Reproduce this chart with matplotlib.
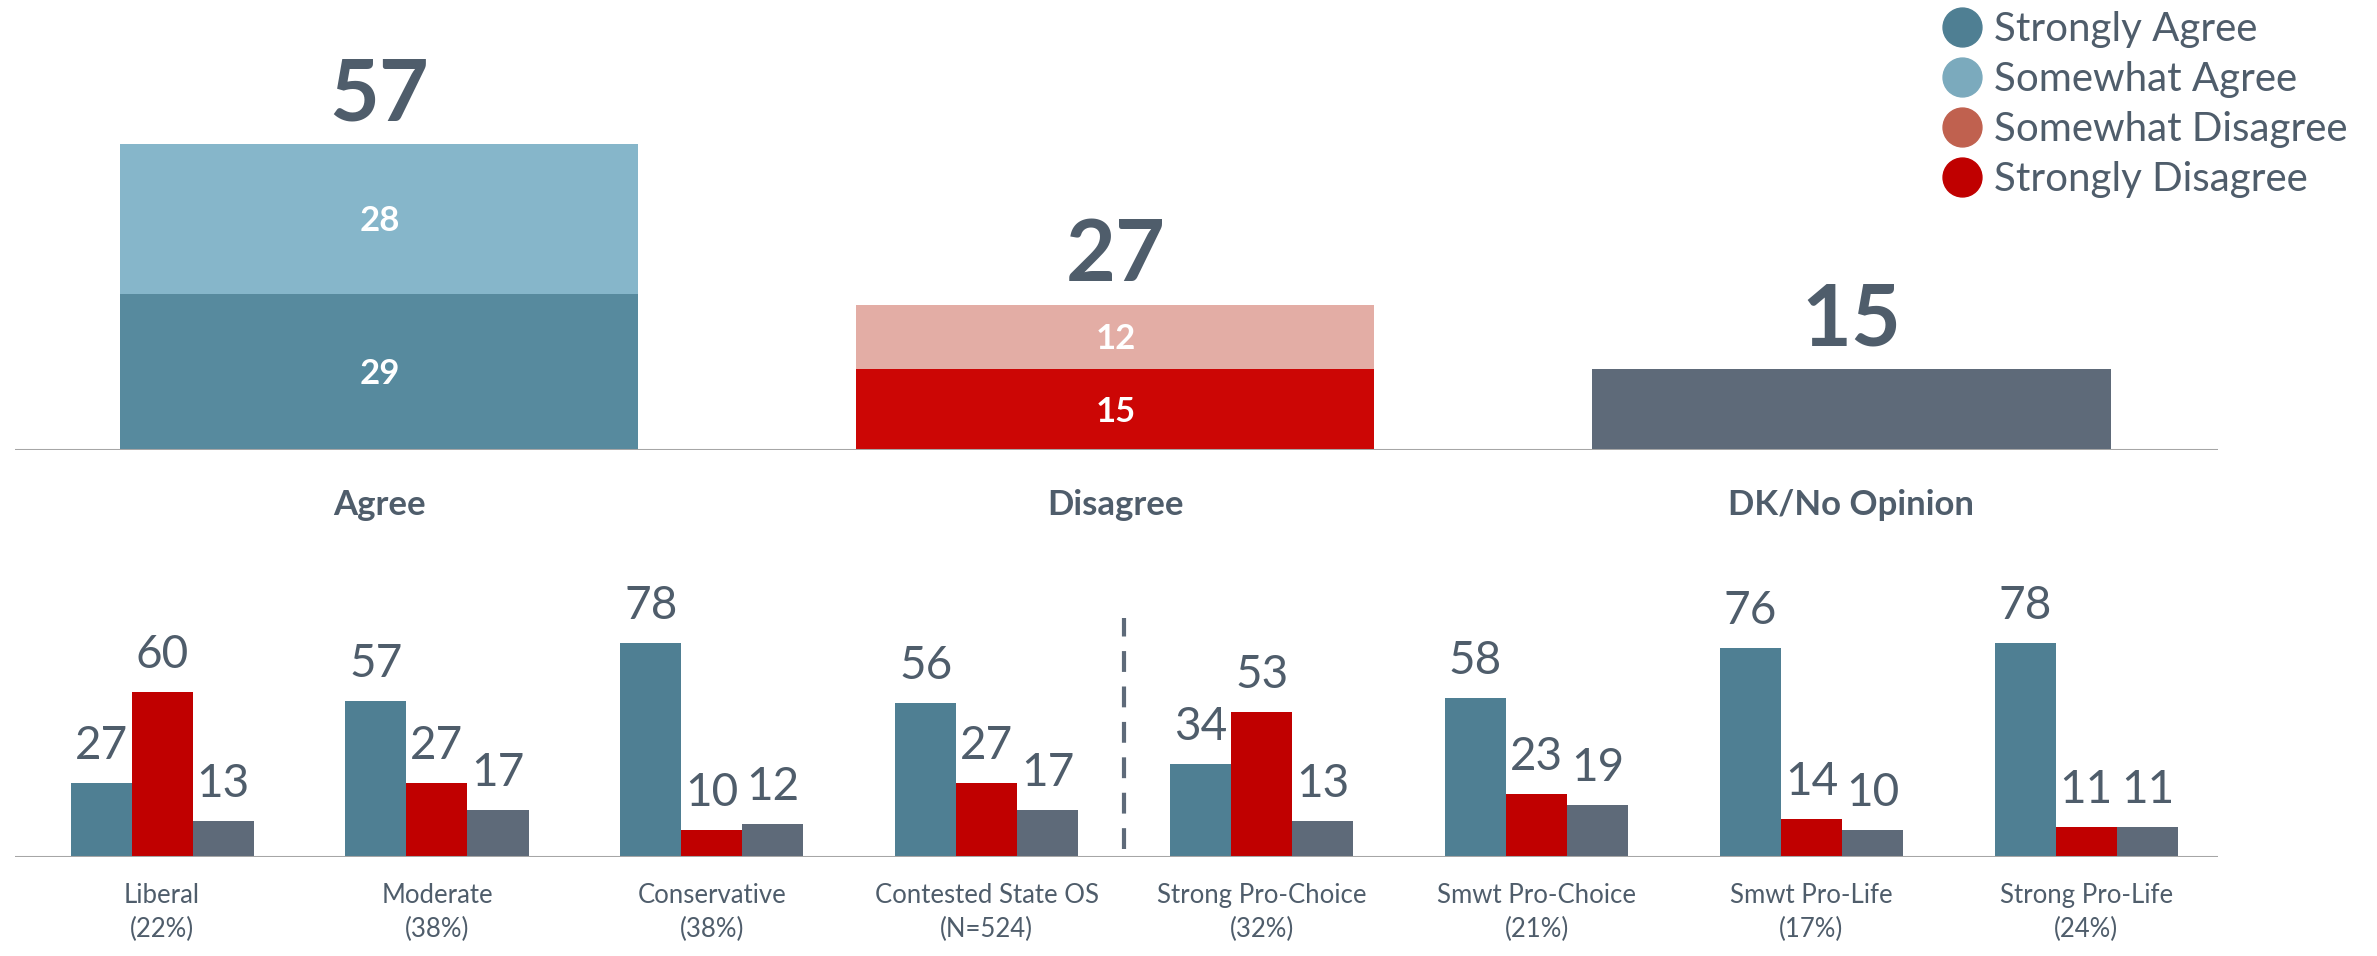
import matplotlib
matplotlib.use("Agg")
import matplotlib.pyplot as plt
from matplotlib.lines import Line2D

# ---------------- data ----------------
top_categories = ["Agree", "Disagree", "DK/No Opinion"]
top_strong = [29, 15, 15]      # Strongly Agree / Strongly Disagree / DK
top_somewhat = [28, 12, 0]     # Somewhat Agree / Somewhat Disagree
top_totals = [57, 27, 15]

groups = ["Liberal\n(22%)", "Moderate\n(38%)", "Conservative\n(38%)",
          "Contested State OS\n(N=524)", "Strong Pro-Choice\n(32%)",
          "Smwt Pro-Choice\n(21%)", "Smwt Pro-Life\n(17%)", "Strong Pro-Life\n(24%)"]
grp_agree = [27, 57, 78, 56, 34, 58, 76, 78]
grp_disagree = [60, 27, 10, 27, 53, 23, 14, 11]
grp_dk = [13, 17, 12, 17, 13, 19, 10, 11]

legend_labels = ["Strongly Agree", "Somewhat Agree", "Somewhat Disagree", "Strongly Disagree"]

# ---------------- style ----------------
FONT = "Lato"
TXT = "#4F5D6B"
C_SA = "#578A9E"
C_SA2 = "#4F7F93"
C_WA = "#86B6CA"
C_WD = "#E3ADA5"
C_WD_LEG = "#C0614F"
C_SD = "#CC0605"
C_SD2 = "#C00000"
C_DK = "#5E6A79"
AX = "#A6A6A6"

W, H = 2377, 956
fig = plt.figure(figsize=(W / 100, H / 100), dpi=100)
fig.patch.set_facecolor("white")

def fx(px):
    return px / W

def fy(py):
    return 1 - py / H

# ---------------- top chart ----------------
ax_l, ax_r = 15, 2218
base_top = 450
ax1 = fig.add_axes([fx(ax_l), fy(base_top), fx(ax_r - ax_l), base_top / H])
xs = list(range(len(top_categories)))
bw = 0.704
ax1.bar(xs, top_strong, width=bw, color=[C_SA, C_SD, C_DK], zorder=2)
ax1.bar(xs, top_somewhat, width=bw, bottom=top_strong, color=[C_WA, C_WD, C_WD], zorder=2)
ax1.set_xlim(-0.495, 2.498)
ax1.set_ylim(0, 83.8)
for i in xs:
    if top_somewhat[i] > 0:
        ax1.text(i, top_strong[i] / 2 - 0.4, str(top_strong[i]), ha="center", va="center",
                 color="white", fontsize=25, fontweight="bold", family=FONT, zorder=3)
        ax1.text(i, top_strong[i] + top_somewhat[i] / 2 - 0.4, str(top_somewhat[i]), ha="center",
                 va="center", color="white", fontsize=25, fontweight="bold", family=FONT, zorder=3)
    ax1.text(i, top_totals[i] + 1.6, str(top_totals[i]), ha="center", va="bottom",
             color=TXT, fontsize=62, fontweight="bold", family=FONT)
    ax1.text(i, -10.2, top_categories[i], ha="center", va="center", color=TXT,
             fontsize=25, fontweight="bold", family=FONT, clip_on=False)
ax1.axhline(0, color=AX, lw=2.2, zorder=3)
ax1.axis("off")
ax1.patch.set_alpha(0)

# ---------------- bottom chart ----------------
base_bot = 857
top_bot = 560
ax2 = fig.add_axes([fx(ax_l), fy(base_bot), fx(ax_r - ax_l), (base_bot - top_bot) / H])
gx = list(range(len(groups)))
bw2 = 0.222
ax2.bar([g - bw2 for g in gx], grp_agree, width=bw2, color=C_SA2, zorder=2)
ax2.bar(gx, grp_disagree, width=bw2, color=C_SD2, zorder=2)
ax2.bar([g + bw2 for g in gx], grp_dk, width=bw2, color=C_DK, zorder=2)
ax2.set_xlim(-0.535, 7.479)
ax2.set_ylim(0, 108.2)
for g in gx:
    for off, v in ((-bw2, grp_agree[g]), (0, grp_disagree[g]), (bw2, grp_dk[g])):
        ax2.text(g + off, v + 5.8, str(v), ha="center", va="bottom", color=TXT,
                 fontsize=33, family=FONT)
    ax2.text(g, -9.6, groups[g], ha="center", va="top", color=TXT, fontsize=18.5,
             family=FONT, linespacing=1.45, clip_on=False)
ax2.axhline(0, color=AX, lw=2.2, zorder=3)
ax2.plot([3.5, 3.5], [3, 87], color=C_DK, lw=3, ls=(0, (5, 3.5)), zorder=3)
ax2.axis("off")
ax2.patch.set_alpha(0)

# ---------------- legend ----------------
handles = [Line2D([0], [0], marker="o", ls="none", markersize=28,
                  markerfacecolor=c, markeredgecolor=c)
           for c in (C_SA2, "#7BAABD", C_WD_LEG, C_SD2)]
leg = fig.legend(handles, legend_labels, loc="upper left",
                 bbox_to_anchor=(fx(1942), fy(11)), frameon=False,
                 prop={"family": FONT, "size": 29}, labelcolor=TXT,
                 handletextpad=0.3, labelspacing=0.32, handlelength=1.0,
                 borderaxespad=0, borderpad=0)

fig.savefig("out.png", dpi=100, facecolor="white")
